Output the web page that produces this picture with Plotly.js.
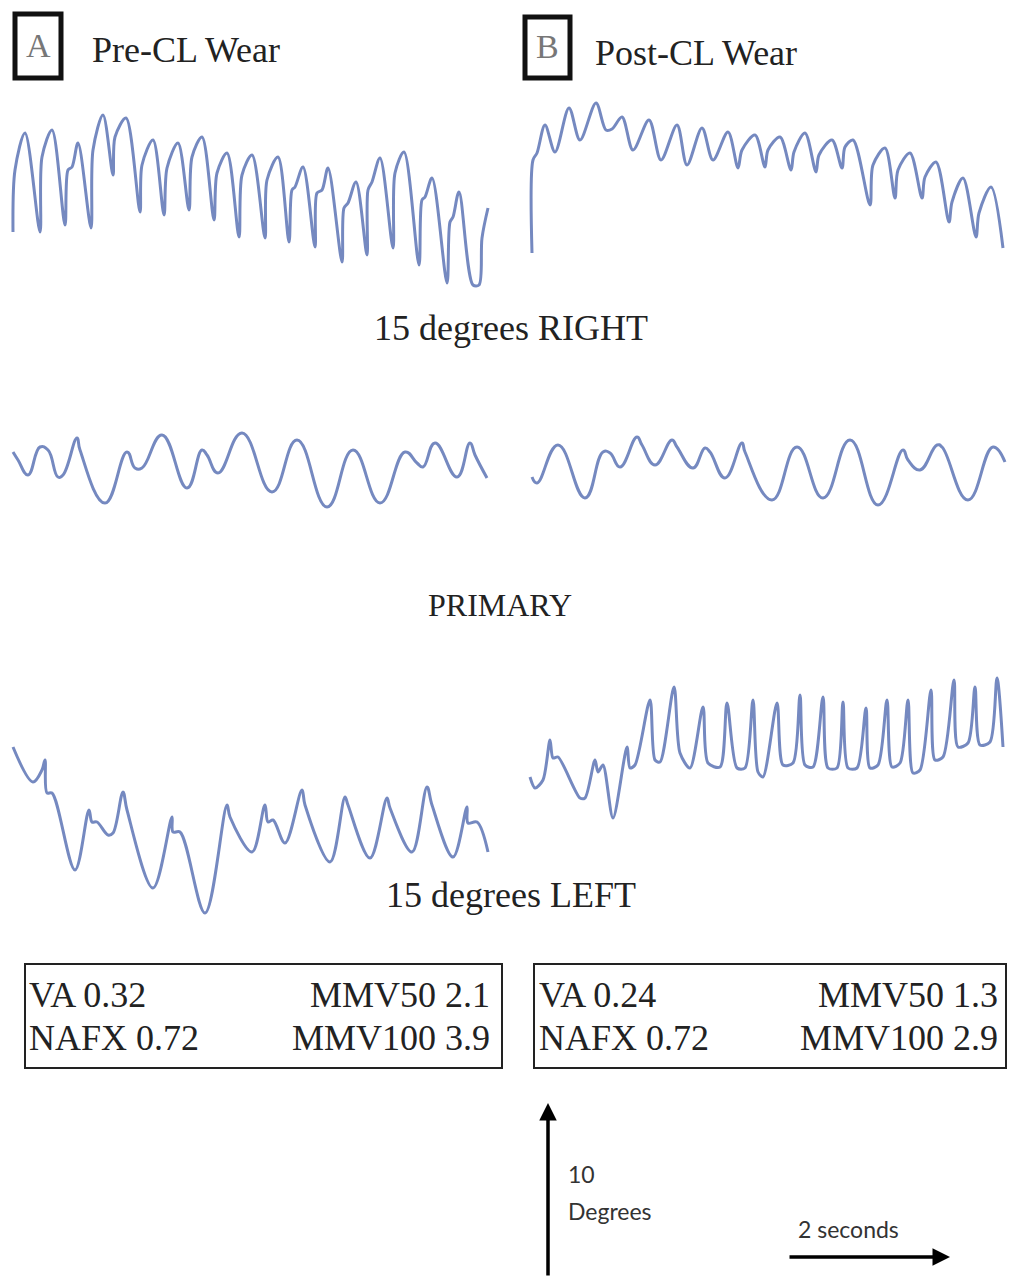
<!DOCTYPE html>
<html><head><meta charset="utf-8">
<script src="https://cdn.plot.ly/plotly-3.0.1.min.js"></script>
<style>html,body{margin:0;padding:0;background:#fff}#chart{width:1016px;height:1282px}</style>
</head><body><div id="chart"></div>
<script>
// ---- Data: eye position traces (time in samples, position in arbitrary units) ----
const preRightT = [3,5,15,30,32,42,55,58,62,68,81,83,93,103,105,116,130,132,143,154,157,168,179,182,192,204,207,217,229,232,242,255,257,268,279,282,285,293,305,307,312,318,332,334,338,346,357,358,362,370,383,385,394,409,412,415,422,437,440,443,449,463,469,472,478];
const preRightY = [88,150,187,88,163,190,95,150,153,177,92,170,205,145,183,202,108,155,180,105,152,177,110,163,183,100,147,167,83,145,165,82,140,163,78,130,133,153,73,127,130,152,58,112,117,138,65,130,138,162,72,147,168,55,120,123,142,37,98,103,128,35,35,82,112];

const postRightT = [7,8,12,20,30,44,55,71,81,87,97,108,124,136,152,162,177,188,203,213,217,230,240,243,255,266,269,280,291,294,307,317,320,328,345,348,360,370,373,385,397,400,411,424,427,438,451,454,466,478];
const postRightY = [67,160,167,195,168,212,180,217,190,191,203,170,200,160,195,155,192,160,188,152,170,185,153,170,183,150,168,187,148,165,180,152,173,180,115,155,172,122,150,167,122,143,158,98,118,142,83,107,133,72];

const prePrimaryT = [3,8,18,30,38,48,53,67,70,95,117,125,132,152,177,192,197,208,232,262,287,317,343,370,395,407,413,425,447,460,465,477];
const prePrimaryY = [148,140,125,153,150,123,125,162,150,97,148,132,132,165,112,150,145,127,167,108,160,93,150,97,148,137,133,157,123,157,145,122];

const postPrimaryT = [7,12,33,60,78,85,95,112,117,130,147,152,168,180,185,200,217,220,247,272,298,325,353,378,383,395,412,417,443,468,480];
const postPrimaryY = [123,117,155,102,148,147,133,163,155,135,160,153,132,152,148,122,157,148,100,153,102,160,95,150,140,130,155,153,100,153,138];

const preLeftT = [3,23,32,35,37,42,65,79,82,87,98,103,113,117,143,162,163,170,195,217,220,242,255,258,263,275,292,295,320,335,338,360,377,380,402,417,422,443,457,458,467,478];
const preLeftY = [183,148,160,170,137,137,60,120,108,108,95,97,138,120,42,113,98,98,17,125,113,78,125,108,110,87,140,125,68,133,125,72,132,122,78,143,125,73,123,107,108,78];

const postLeftT = [5,10,18,25,28,33,55,60,70,73,78,88,102,105,110,125,130,135,149,155,165,178,183,195,202,212,220,228,233,238,252,258,268,275,280,288,298,303,312,318,323,332,341,345,353,362,367,375,383,388,395,406,410,418,429,433,443,450,455,465,472,478];
const postLeftY = [153,142,150,190,172,173,132,132,170,158,165,112,183,162,165,230,170,168,243,177,162,223,167,163,227,162,162,230,158,153,227,165,167,235,165,163,233,162,162,228,162,162,222,162,165,230,163,167,230,157,160,240,170,173,250,183,187,243,185,188,252,183];

// ---- Text ----
const panelLetters = ["A", "B"];
const panelTitles = ["Pre-CL Wear", "Post-CL Wear"];
const rowLabels = ["15 degrees RIGHT", "PRIMARY", "15 degrees LEFT"];
const statsLeftA = ["VA 0.32", "NAFX 0.72"];
const statsRightA = ["MMV50 2.1", "MMV100 3.9"];
const statsLeftB = ["VA 0.24", "NAFX 0.72"];
const statsRightB = ["MMV50 1.3", "MMV100 2.9"];
const scaleV = ["10", "Degrees"];
const scaleH = "2 seconds";

// ---- Layout helpers ----
const W = 1016, H = 1282;
const px = x => x / W;
const py = y => 1 - y / H;
const COLOR = '#7589c0';
const SMOOTH = [0.9, 0.9, 1.3, 1.3, 1.0, 0.8];
const SERIF = 'Liberation Serif, Times New Roman, serif';
const SANS = 'Lato, Open Sans, sans-serif';

const series = [
  [preRightT, preRightY], [postRightT, postRightY],
  [prePrimaryT, prePrimaryY], [postPrimaryT, postPrimaryY],
  [preLeftT, preLeftY], [postLeftT, postLeftY]
];
const colPx = [[10, 500], [525, 1015]];
const rowPx = [[60, 320], [340, 600], [670, 930]];

const data = [];
const layout = {
  width: W, height: H,
  margin: {l: 0, r: 0, t: 0, b: 0},
  paper_bgcolor: '#ffffff', plot_bgcolor: 'rgba(0,0,0,0)',
  showlegend: false,
  annotations: [], shapes: []
};

series.forEach((s, i) => {
  const n = i + 1;
  const sfx = n === 1 ? '' : String(n);
  const col = i % 2, row = Math.floor(i / 2);
  data.push({
    x: s[0], y: s[1], type: 'scatter', mode: 'lines',
    line: {color: COLOR, width: 3, shape: 'spline', smoothing: SMOOTH[i]},
    hoverinfo: 'skip', cliponaxis: false,
    xaxis: 'x' + sfx, yaxis: 'y' + sfx
  });
  layout['xaxis' + sfx] = {domain: [px(colPx[col][0]), px(colPx[col][1])], range: [0, 490], visible: false, fixedrange: true, anchor: 'y' + sfx};
  layout['yaxis' + sfx] = {domain: [py(rowPx[row][1]), py(rowPx[row][0])], range: [0, 260], visible: false, fixedrange: true, anchor: 'x' + sfx};
});

const ann = (text, x, y, size, opts = {}) => Object.assign({
  text, xref: 'paper', yref: 'paper', x: px(x), y: py(y),
  showarrow: false, xanchor: 'left', yanchor: 'middle',
  font: {family: SERIF, size, color: '#222'}
}, opts);

// Panel letter boxes and titles
layout.shapes.push({type: 'rect', xref: 'paper', yref: 'paper', x0: px(15), x1: px(61), y0: py(78), y1: py(14), line: {color: '#111', width: 5}});
layout.shapes.push({type: 'rect', xref: 'paper', yref: 'paper', x0: px(525), x1: px(570), y0: py(78), y1: py(17), line: {color: '#111', width: 5}});
layout.annotations.push(ann(panelLetters[0], 38, 46, 34, {xanchor: 'center', font: {family: SERIF, size: 34, color: '#777'}}));
layout.annotations.push(ann(panelLetters[1], 547, 47, 34, {xanchor: 'center', font: {family: SERIF, size: 34, color: '#777'}}));
layout.annotations.push(ann(panelTitles[0], 90, 50, 36));
layout.annotations.push(ann(panelTitles[1], 593, 53, 36));

// Row labels
layout.annotations.push(ann(rowLabels[0], 511, 328, 36, {xanchor: 'center'}));
layout.annotations.push(ann(rowLabels[1], 500, 605, 32, {xanchor: 'center'}));
layout.annotations.push(ann(rowLabels[2], 511, 895, 36, {xanchor: 'center'}));

// Stats boxes
layout.shapes.push({type: 'rect', xref: 'paper', yref: 'paper', x0: px(25), x1: px(502), y0: py(1068), y1: py(964), line: {color: '#222', width: 2}});
layout.shapes.push({type: 'rect', xref: 'paper', yref: 'paper', x0: px(534), x1: px(1006), y0: py(1068), y1: py(964), line: {color: '#222', width: 2}});
const SF = 36;
layout.annotations.push(ann(statsLeftA[0], 27, 995, SF));
layout.annotations.push(ann(statsLeftA[1], 27, 1038, SF));
layout.annotations.push(ann(statsRightA[0], 492, 995, SF, {xanchor: 'right'}));
layout.annotations.push(ann(statsRightA[1], 492, 1038, SF, {xanchor: 'right'}));
layout.annotations.push(ann(statsLeftB[0], 537, 995, SF));
layout.annotations.push(ann(statsLeftB[1], 537, 1038, SF));
layout.annotations.push(ann(statsRightB[0], 1000, 995, SF, {xanchor: 'right'}));
layout.annotations.push(ann(statsRightB[1], 1000, 1038, SF, {xanchor: 'right'}));

// Scale arrows
layout.annotations.push({text: '', xref: 'paper', yref: 'paper', x: px(548), y: py(1103), ax: 0, ay: 174, axref: 'pixel', ayref: 'pixel', showarrow: true, arrowhead: 2, arrowsize: 1, arrowwidth: 3.5, arrowcolor: '#000'});
layout.annotations.push({text: '', xref: 'paper', yref: 'paper', x: px(950), y: py(1257), ax: -162, ay: 0, axref: 'pixel', ayref: 'pixel', showarrow: true, arrowhead: 2, arrowsize: 1, arrowwidth: 3.5, arrowcolor: '#000'});
layout.annotations.push(ann(scaleV[0], 566, 1174, 23, {font: {family: SANS, size: 23, color: '#333'}}));
layout.annotations.push(ann(scaleV[1], 566, 1211, 23, {font: {family: SANS, size: 23, color: '#333'}}));
layout.annotations.push(ann(scaleH, 796, 1229, 23, {font: {family: SANS, size: 23, color: '#333'}}));

Plotly.newPlot('chart', data, layout, {staticPlot: true, displayModeBar: false});
</script></body></html>
